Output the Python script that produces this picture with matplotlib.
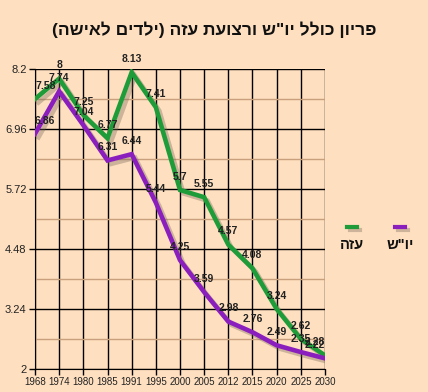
import matplotlib.pyplot as plt
import matplotlib.patheffects as pe

years = ['1968', '1974', '1980', '1985', '1991', '1995', '2000', '2005', '2012', '2015', '2020', '2025', '2030']
gaza = [7.58, 8, 7.25, 6.77, 8.13, 7.41, 5.7, 5.55, 4.57, 4.08, 3.24, 2.62, 2.28]
wb = [6.86, 7.74, 7.04, 6.31, 6.44, 5.44, 4.25, 3.59, 2.98, 2.76, 2.49, 2.35, 2.22]
yticks = [2, 3.24, 4.48, 5.72, 6.96, 8.2]

title = 'פריון כולל יו"ש ורצועת עזה (ילדים לאישה)'
name_gaza = 'עזה'
name_wb = 'יו"ש'


def rtl(s):
    # matplotlib has no bidi, so reverse by hand and mirror brackets
    s = s[::-1]
    return s.translate(str.maketrans('()', ')('))


bg = '#fedfbf'
green = '#1f9c3a'
purple = '#8a1fbe'
plt.rcParams['font.family'] = ['Liberation Sans', 'DejaVu Sans']

fig = plt.figure(figsize=(4.28, 3.92), dpi=100, facecolor=bg)
ax = fig.add_axes([35 / 428, 1 - 369 / 392, 290 / 428, 300 / 392])
ax.set_facecolor(bg)

x = list(range(len(years)))
shadow = [pe.SimpleLineShadow(offset=(2.5, -2.5), shadow_color='#6f6152', alpha=0.35), pe.Normal()]
ax.plot(x, gaza, color=green, lw=3.3, solid_joinstyle='miter', path_effects=shadow, zorder=3)
ax.plot(x, wb, color=purple, lw=3.3, solid_joinstyle='miter', path_effects=shadow, zorder=3)

txt_fx = [pe.withSimplePatchShadow(offset=(0.8, -0.8), shadow_rgbFace='#999999', alpha=0.5)]
for series in (gaza, wb):
    for i, v in enumerate(series):
        ha = 'center'
        if i == 0:
            ha = 'left'
        elif i == len(x) - 1:
            ha = 'right'
        t = ax.annotate(f'{v:g}', (i, v), xytext=(0, 6), textcoords='offset points',
                        ha=ha, va='bottom', fontsize=7.5, fontweight='bold', color='#222222',
                        zorder=4)

ax.set_xlim(0, len(x) - 1)
ax.set_ylim(2, 8.2)
ax.set_xticks(x)
ax.set_xticklabels(years, fontsize=7, color='#222222')
ax.set_yticks(yticks)
ax.set_yticklabels([f'{t:g}' for t in yticks], fontsize=8, color='#222222')
ax.set_yticks([(yticks[i] + yticks[i + 1]) / 2 for i in range(len(yticks) - 1)], minor=True)
ax.tick_params(axis='y', which='minor', length=0)
ax.tick_params(axis='x', length=4, width=1, color='black', pad=2)
ax.tick_params(axis='y', length=4, width=1, color='black', pad=2)
ax.grid(which='major', color='black', lw=1)
ax.grid(which='minor', axis='y', color='#c8a07e', lw=1)
for s in ax.spines.values():
    s.set_visible(False)
ax.spines['left'].set_visible(True)
ax.spines['bottom'].set_visible(True)

fig.text(0.5, 1 - 30 / 392, rtl(title), ha='center', va='center',
         fontsize=12.5, fontweight='bold', color='#111111')

# legend drawn by hand so the Hebrew reads right to left
for xc, c, name in ((352, green, name_gaza), (400, purple, name_wb)):
    fig.add_artist(plt.Line2D([(xc - 5) / 428, (xc + 5) / 428], [1 - 227 / 392] * 2,
                              color=c, lw=3, path_effects=shadow))
    fig.text(xc / 428, 1 - 245 / 392, rtl(name), ha='center', va='center',
             fontsize=10.5, fontweight='bold', color='#111111')

fig.savefig('out.png', dpi=100, facecolor=bg)
